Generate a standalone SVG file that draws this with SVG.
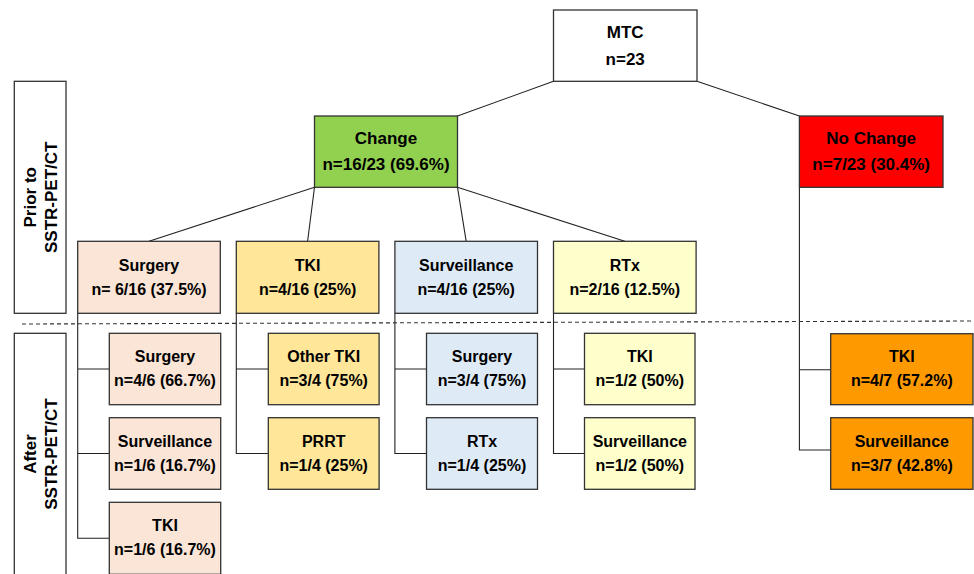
<svg xmlns="http://www.w3.org/2000/svg" width="974" height="574" viewBox="0 0 974 574">
<style>
.box{stroke:#333;stroke-width:1.3}
.t{font-family:"Liberation Sans",Arial,sans-serif;font-weight:bold;font-size:16px;fill:#000;text-anchor:middle}
.tl{font-size:17px}
.c{fill:none;stroke:#222;stroke-width:1.1}
.pink{fill:#fbe5d6}.tki{fill:#ffe699}.blue{fill:#deebf7}.ly{fill:#ffffcc}.org{fill:#ff9900}
</style>
<rect width="974" height="574" fill="#fff"/>
<g id="connectors">
<path class="c" d="M553.5 81.3L457.5 116M697 81.3L799.4 116"/>
<path class="c" d="M314.5 187.3L149 241.3M314.5 187.3L307.6 241.3M457.5 187.3L466.2 241.3M457.5 187.3L624.8 241.3"/>
<path class="c" d="M799.4 187.3V450H830.7M799.4 369.7H830.7"/>
<path class="c" d="M77.7 313.3V538.3H109.3M77.7 369H109.3M77.7 453.5H109.3"/>
<path class="c" d="M236.3 313.3V453.5H268.3M236.3 369H268.3"/>
<path class="c" d="M394.9 313.3V453.5H426.5M394.9 369H426.5"/>
<path class="c" d="M553.5 313.3V453.5H584.5M553.5 369H584.5"/>
<path d="M22 324L974 321" fill="none" stroke="#333" stroke-width="1.1" stroke-dasharray="4 3"/>
</g>
<g id="label-prior">
<rect x="14.3" y="81.3" width="51.7" height="232" fill="#fff" class="box"/>
<text class="t tl" transform="translate(36,197.3) rotate(-90)">Prior to</text>
<text class="t tl" transform="translate(57.3,197.3) rotate(-90)">SSTR-PET/CT</text>
</g>
<g id="label-after">
<rect x="14.3" y="333.3" width="51.7" height="244" fill="#fff" class="box"/>
<text class="t tl" transform="translate(36,454) rotate(-90)">After</text>
<text class="t tl" transform="translate(57.3,454) rotate(-90)">SSTR-PET/CT</text>
</g>
<g id="mtc">
<rect x="553.5" y="10" width="143.5" height="71.3" fill="#fff" class="box"/>
<text class="t tl" x="625.2" y="38">MTC</text>
<text class="t tl" x="625.2" y="64.5">n=23</text>
</g>
<g id="change">
<rect x="314.5" y="116" width="143" height="71.3" fill="#92d050" class="box"/>
<text class="t tl" x="386" y="144.3">Change</text>
<text class="t tl" x="386" y="169.7">n=16/23 (69.6%)</text>
</g>
<g id="nochange">
<rect x="799.4" y="116" width="143.6" height="71.3" fill="#ff0000" class="box"/>
<text class="t tl" x="871.2" y="144.3">No Change</text>
<text class="t tl" x="871.2" y="169.7">n=7/23 (30.4%)</text>
</g>
<g id="pre-surgery">
<rect x="77.7" y="241.3" width="142.6" height="72" class="box pink"/>
<text class="t" x="149" y="271">Surgery</text>
<text class="t" x="149" y="295">n= 6/16 (37.5%)</text>
</g>
<g id="pre-tki">
<rect x="236.3" y="241.3" width="142.6" height="72" class="box tki"/>
<text class="t" x="307.6" y="271">TKI</text>
<text class="t" x="307.6" y="295">n=4/16 (25%)</text>
</g>
<g id="pre-surveillance">
<rect x="394.9" y="241.3" width="142.6" height="72" class="box blue"/>
<text class="t" x="466.2" y="271">Surveillance</text>
<text class="t" x="466.2" y="295">n=4/16 (25%)</text>
</g>
<g id="pre-rtx">
<rect x="553.5" y="241.3" width="142.6" height="72" class="box ly"/>
<text class="t" x="624.8" y="271">RTx</text>
<text class="t" x="624.8" y="295">n=2/16 (12.5%)</text>
</g>
<g id="surg-surgery">
<rect x="109.3" y="333.3" width="111.4" height="71.4" class="box pink"/>
<text class="t" x="165" y="362">Surgery</text>
<text class="t" x="165" y="386">n=4/6 (66.7%)</text>
</g>
<g id="surg-surveillance">
<rect x="109.3" y="417.7" width="111.4" height="71.6" class="box pink"/>
<text class="t" x="165" y="446.5">Surveillance</text>
<text class="t" x="165" y="470.5">n=1/6 (16.7%)</text>
</g>
<g id="surg-tki">
<rect x="109.3" y="502.3" width="111.4" height="72" class="box pink"/>
<text class="t" x="165" y="531.3">TKI</text>
<text class="t" x="165" y="555.3">n=1/6 (16.7%)</text>
</g>
<g id="tki-other">
<rect x="268.3" y="333.3" width="110.8" height="71.4" class="box tki"/>
<text class="t" x="323.7" y="362">Other TKI</text>
<text class="t" x="323.7" y="386">n=3/4 (75%)</text>
</g>
<g id="tki-prrt">
<rect x="268.3" y="417.7" width="110.8" height="71.6" class="box tki"/>
<text class="t" x="323.7" y="446.5">PRRT</text>
<text class="t" x="323.7" y="470.5">n=1/4 (25%)</text>
</g>
<g id="surv-surgery">
<rect x="426.5" y="333.3" width="111" height="71.4" class="box blue"/>
<text class="t" x="482" y="362">Surgery</text>
<text class="t" x="482" y="386">n=3/4 (75%)</text>
</g>
<g id="surv-rtx">
<rect x="426.5" y="417.7" width="111" height="71.6" class="box blue"/>
<text class="t" x="482" y="446.5">RTx</text>
<text class="t" x="482" y="470.5">n=1/4 (25%)</text>
</g>
<g id="rtx-tki">
<rect x="584.5" y="333.3" width="110.5" height="71.4" class="box ly"/>
<text class="t" x="639.8" y="362">TKI</text>
<text class="t" x="639.8" y="386">n=1/2 (50%)</text>
</g>
<g id="rtx-surveillance">
<rect x="584.5" y="417.7" width="110.5" height="71.6" class="box ly"/>
<text class="t" x="639.8" y="446.5">Surveillance</text>
<text class="t" x="639.8" y="470.5">n=1/2 (50%)</text>
</g>
<g id="nc-tki">
<rect x="830.7" y="333.7" width="142.3" height="71" class="box org"/>
<text class="t" x="901.8" y="362">TKI</text>
<text class="t" x="901.8" y="386">n=4/7 (57.2%)</text>
</g>
<g id="nc-surveillance">
<rect x="830.7" y="417.7" width="142.3" height="71.6" class="box org"/>
<text class="t" x="901.8" y="446.5">Surveillance</text>
<text class="t" x="901.8" y="470.5">n=3/7 (42.8%)</text>
</g>
</svg>
